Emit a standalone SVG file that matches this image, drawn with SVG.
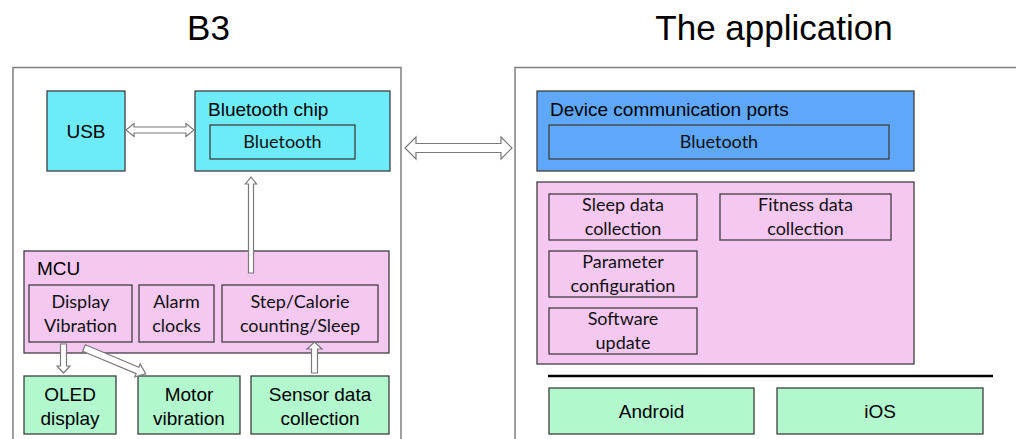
<svg xmlns="http://www.w3.org/2000/svg" width="1016" height="439" viewBox="0 0 1016 439">
<style>
.outer{fill:#fff;stroke:#7f7f7f;stroke-width:1.5}
.box{stroke:#3f3f3f;stroke-width:1.3}
.cyan{fill:#6eebf9}
.pink{fill:#f5c8f2}
.green{fill:#b3f7cf}
.blue{fill:#5fa8f9}
.sub{fill:none;stroke:#3f3f3f;stroke-width:1.3}
.arr{fill:#fff;stroke:#7a7a7a;stroke-width:1.2;stroke-linejoin:miter}
.a{font-family:"Liberation Sans",Arial,sans-serif;fill:#000}
.c{font-family:Lato,"Liberation Sans",sans-serif;fill:#111}
.t{font-size:35px;text-anchor:middle}
.m{font-size:19px}
.mc{font-size:19px;text-anchor:middle}
.s{font-size:18px;text-anchor:middle}
</style>
<text class="a t" x="208.5" y="40">B3</text>
<text class="a t" x="774" y="40">The application</text>
<rect id="b3-frame" class="outer" x="13" y="67.5" width="388" height="380"/>
<rect id="app-frame" class="outer" x="515" y="67.5" width="520" height="380"/>
<g id="usb"><rect class="box cyan" x="47" y="91" width="78" height="80"/><text class="a mc" x="86" y="137.5">USB</text></g>
<g id="bt-chip"><rect class="box cyan" x="195" y="91" width="195" height="80"/><text class="a m" x="208" y="116">Bluetooth chip</text><rect class="sub" x="210" y="125" width="145" height="34"/><text class="c s" x="282.5" y="148">Bluetooth</text></g>
<g id="mcu"><rect class="box pink" x="24" y="251" width="365" height="102"/><text class="a m" x="37" y="275">MCU</text>
<rect class="sub" x="29" y="285" width="103" height="57"/><text class="c s" x="80.5" y="308">Display</text><text class="c s" x="80.5" y="332">Vibration</text>
<rect class="sub" x="139" y="285" width="75" height="57"/><text class="c s" x="176.5" y="308">Alarm</text><text class="c s" x="176.5" y="332">clocks</text>
<rect class="sub" x="222" y="285" width="156" height="57"/><text class="c s" x="300" y="308">Step/Calorie</text><text class="c s" x="300" y="332">counting/Sleep</text></g>
<g id="oled"><rect class="box green" x="24" y="376" width="92" height="58"/><text class="a mc" x="70" y="401">OLED</text><text class="a mc" x="70" y="424.5">display</text></g>
<g id="motor"><rect class="box green" x="138" y="376" width="102" height="58"/><text class="a mc" x="189" y="401">Motor</text><text class="a mc" x="189" y="424.5">vibration</text></g>
<g id="sensor"><rect class="box green" x="251" y="376" width="138" height="58"/><text class="a mc" x="320" y="401">Sensor data</text><text class="a mc" x="320" y="424.5">collection</text></g>
<g id="device-ports"><rect class="box blue" x="537" y="91" width="377" height="80"/><text class="a m" x="550" y="116">Device communication ports</text><rect class="sub" x="549" y="125" width="340" height="34"/><text class="c s" x="719" y="148">Bluetooth</text></g>
<g id="app-functions"><rect class="box pink" x="537" y="182" width="377" height="182"/>
<rect class="sub" x="549" y="194" width="148" height="46"/><text class="c s" x="623" y="211">Sleep data</text><text class="c s" x="623" y="235">collection</text>
<rect class="sub" x="720" y="194" width="171" height="46"/><text class="c s" x="805.5" y="211">Fitness data</text><text class="c s" x="805.5" y="235">collection</text>
<rect class="sub" x="549" y="251" width="148" height="46"/><text class="c s" x="623" y="268">Parameter</text><text class="c s" x="623" y="292">configuration</text>
<rect class="sub" x="549" y="308" width="148" height="46"/><text class="c s" x="623" y="325">Software</text><text class="c s" x="623" y="349">update</text></g>
<line x1="548" y1="376" x2="993" y2="376" stroke="#000" stroke-width="2.5"/>
<g id="android"><rect class="box green" x="549" y="388" width="205" height="46"/><text class="a mc" x="651.5" y="417.5">Android</text></g>
<g id="ios"><rect class="box green" x="777" y="388" width="206" height="46"/><text class="a mc" x="880" y="417.5">iOS</text></g>
<g id="connectors">
<polygon class="arr" points="126,130 134,123.5 134,127 186,127 186,123.5 194,130 186,136.5 186,133 134,133 134,136.5"/>
<polygon class="arr" points="405,148 416,137 416,143.5 501,143.5 501,137 512,148 501,159 501,152.5 416,152.5 416,159"/>
<polygon class="arr" points="251,177 256.5,184 253.5,184 253.5,273 248.5,273 248.5,184 245.5,184"/>
<polygon class="arr" points="60.5,344 66.5,344 66.5,366 70,366 63.5,373 57,366 60.5,366"/>
<polygon class="arr" points="314.5,342 322,349 317.5,349 317.5,373 311.5,373 311.5,349 307,349"/>
<polygon class="arr" transform="translate(84,348) rotate(22.75)" points="0,-3.5 58,-3.5 58,-7 67,0 58,7 58,3.5 0,3.5"/>
</g>
</svg>
